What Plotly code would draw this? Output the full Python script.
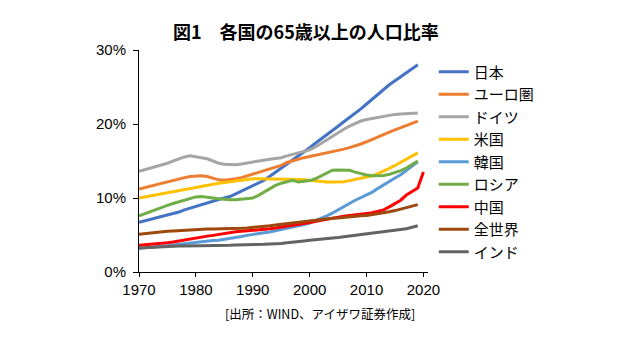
import plotly.graph_objects as go

years = list(range(1970, 2020))
years_china = list(range(1970, 2021))

japan = [6.7, 6.9, 7.1, 7.25, 7.4, 7.6, 7.85, 8.1, 8.4, 8.65,
         8.9, 9.1, 9.35, 9.6, 9.8, 10.0, 10.2, 10.55, 10.9, 11.3,
         11.7, 12.0, 12.4, 12.95, 13.5, 14.0, 14.5, 15.1, 15.7, 16.25,
         16.8, 17.4, 17.95, 18.5, 19.1, 19.7, 20.3, 20.85, 21.4, 22.05,
         22.7, 23.35, 23.95, 24.7, 25.3, 25.85, 26.4, 27.0, 27.5, 28.0]
euro = [11.2, 11.4, 11.65, 11.85, 12.0, 12.2, 12.4, 12.6, 12.75, 12.9,
        13.0, 13.0, 12.9, 12.65, 12.45, 12.4, 12.45, 12.6, 12.75, 13.0,
        13.25, 13.5, 13.7, 13.9, 14.15, 14.4, 14.8, 15.05, 15.25, 15.45,
        15.6, 15.75, 15.95, 16.1, 16.3, 16.45, 16.6, 16.8, 17.0, 17.3,
        17.6, 17.95, 18.3, 18.6, 18.9, 19.2, 19.5, 19.8, 20.1, 20.4]
germany = [13.6, 13.8, 14.0, 14.25, 14.5, 14.7, 15.0, 15.3, 15.55, 15.7,
           15.6, 15.45, 15.3, 15.0, 14.7, 14.55, 14.5, 14.5, 14.6, 14.75,
           14.9, 15.0, 15.15, 15.25, 15.35, 15.45, 15.7, 15.9, 16.1, 16.3,
           16.5, 16.9, 17.4, 17.9, 18.35, 18.8, 19.3, 19.7, 20.1, 20.4,
           20.6, 20.75, 20.9, 21.0, 21.1, 21.3, 21.35, 21.4, 21.45, 21.5]
usa = [10.0, 10.15, 10.3, 10.45, 10.6, 10.7, 10.85, 11.0, 11.1, 11.3,
       11.5, 11.65, 11.8, 11.9, 12.0, 12.1, 12.2, 12.3, 12.4, 12.55,
       12.6, 12.6, 12.6, 12.6, 12.6, 12.6, 12.6, 12.55, 12.5, 12.45,
       12.35, 12.25, 12.15, 12.15, 12.15, 12.15, 12.2, 12.35, 12.5, 12.65,
       12.8, 13.0, 13.3, 13.6, 14.0, 14.4, 14.85, 15.3, 15.7, 16.1]
korea = [3.2, 3.25, 3.3, 3.35, 3.45, 3.55, 3.65, 3.75, 3.85, 3.95,
         4.0, 4.05, 4.15, 4.25, 4.3, 4.4, 4.5, 4.65, 4.8, 4.95,
         5.1, 5.2, 5.3, 5.4, 5.55, 5.7, 5.85, 6.0, 6.15, 6.4,
         6.6, 6.9, 7.25, 7.6, 7.95, 8.4, 8.9, 9.35, 9.7, 10.05,
         10.4, 10.8, 11.3, 11.8, 12.2, 12.7, 13.15, 13.7, 14.3, 14.9]
russia = [7.6, 7.9, 8.2, 8.5, 8.75, 9.0, 9.25, 9.5, 9.75, 10.0,
          10.15, 10.2, 10.15, 10.0, 9.9, 9.8, 9.75, 9.75, 9.8, 9.85,
          10.0, 10.35, 10.8, 11.2, 11.7, 12.0, 12.25, 12.4, 12.15, 12.2,
          12.35, 12.6, 13.0, 13.4, 13.75, 13.8, 13.8, 13.75, 13.5, 13.25,
          13.1, 13.0, 13.0, 13.05, 13.2, 13.4, 13.7, 14.05, 14.5, 15.0]
china = [3.6, 3.65, 3.7, 3.75, 3.85, 3.95, 4.05, 4.2, 4.35, 4.5,
         4.65, 4.75, 4.85, 4.95, 5.1, 5.2, 5.3, 5.45, 5.5, 5.55,
         5.6, 5.65, 5.75, 5.85, 5.95, 6.05, 6.15, 6.25, 6.4, 6.55,
         6.7, 6.85, 7.0, 7.15, 7.35, 7.45, 7.55, 7.65, 7.7, 7.8,
         7.9, 8.0, 8.15, 8.4, 8.8, 9.2, 9.7, 10.4, 10.9, 11.35, 13.5]
world = [5.1, 5.2, 5.3, 5.35, 5.4, 5.5, 5.55, 5.6, 5.7, 5.75,
         5.8, 5.8, 5.8, 5.8, 5.8, 5.8, 5.85, 5.9, 5.9, 5.95,
         6.0, 6.05, 6.15, 6.25, 6.35, 6.45, 6.55, 6.65, 6.75, 6.85,
         6.95, 7.0, 7.1, 7.15, 7.25, 7.3, 7.4, 7.45, 7.5, 7.6,
         7.65, 7.75, 7.85, 8.0, 8.15, 8.3, 8.5, 8.65, 8.85, 9.1]
india = [3.25, 3.3, 3.3, 3.35, 3.35, 3.4, 3.45, 3.5, 3.5, 3.5,
         3.5, 3.5, 3.55, 3.55, 3.55, 3.6, 3.6, 3.65, 3.65, 3.7,
         3.7, 3.75, 3.75, 3.8, 3.8, 3.85, 3.95, 4.0, 4.1, 4.2,
         4.3, 4.35, 4.45, 4.5, 4.6, 4.65, 4.75, 4.85, 4.9, 5.0,
         5.05, 5.15, 5.25, 5.35, 5.45, 5.6, 5.7, 5.85, 6.05, 6.25]

series = [
    ("日本", years, japan, "#4472C4"),
    ("ユーロ圏", years, euro, "#ED7D31"),
    ("ドイツ", years, germany, "#A5A5A5"),
    ("米国", years, usa, "#FFC000"),
    ("韓国", years, korea, "#5B9BD5"),
    ("ロシア", years, russia, "#70AD47"),
    ("中国", years_china, china, "#FF0000"),
    ("全世界", years, world, "#9E480E"),
    ("インド", years, india, "#636363"),
]

x_ticks = [1970, 1980, 1990, 2000, 2010, 2020]
y_ticks = [0, 10, 20, 30]
y_tick_labels = ["0%", "10%", "20%", "30%"]

title_text = "図1　各国の65歳以上の人口比率"
source_text = "[出所：WIND、アイザワ証券作成]"

FONT = "Arial, 'Liberation Sans', 'Noto Sans CJK JP', sans-serif"
CJK = "'Noto Sans CJK JP', sans-serif"

fig = go.Figure()
for name, xs, ys, color in series:
    fig.add_trace(go.Scatter(x=xs, y=ys, name=name, mode="lines",
                             line=dict(color=color, width=3)))

fig.update_layout(
    width=640, height=342,
    margin=dict(l=139, r=212, t=50, b=70),
    paper_bgcolor="white", plot_bgcolor="white",
    font=dict(family=FONT, color="#000000", size=13),
    title=dict(text="<b>" + title_text + "</b>", x=0.478, xanchor="center",
               y=0.905, yanchor="middle",
               font=dict(size=18, family=CJK, color="#000")),
    showlegend=True,
    legend=dict(x=1.02, xanchor="left", y=0.975, yanchor="top",
                font=dict(size=15, family=CJK),
                bgcolor="rgba(0,0,0,0)", tracegroupgap=0, itemwidth=30),
    xaxis=dict(range=[1970, 2020.8], tickvals=x_ticks, showgrid=False, zeroline=False,
               showline=True, linecolor="black", linewidth=1,
               ticks="outside", ticklen=4, tickcolor="black",
               tickfont=dict(size=15)),
    yaxis=dict(range=[0, 30], tickvals=y_ticks, ticktext=y_tick_labels,
               showgrid=False, zeroline=False,
               showline=True, linecolor="black", linewidth=1,
               ticks="outside", ticklen=5, tickcolor="black",
               ticklabelstandoff=4,
               tickfont=dict(size=15)),
)

fig.add_annotation(text=source_text, xref="paper", yref="paper",
                   x=0.625, y=-0.185, xanchor="center", yanchor="middle",
                   showarrow=False, font=dict(size=12.5, family=CJK))

fig.write_html("out.html")
